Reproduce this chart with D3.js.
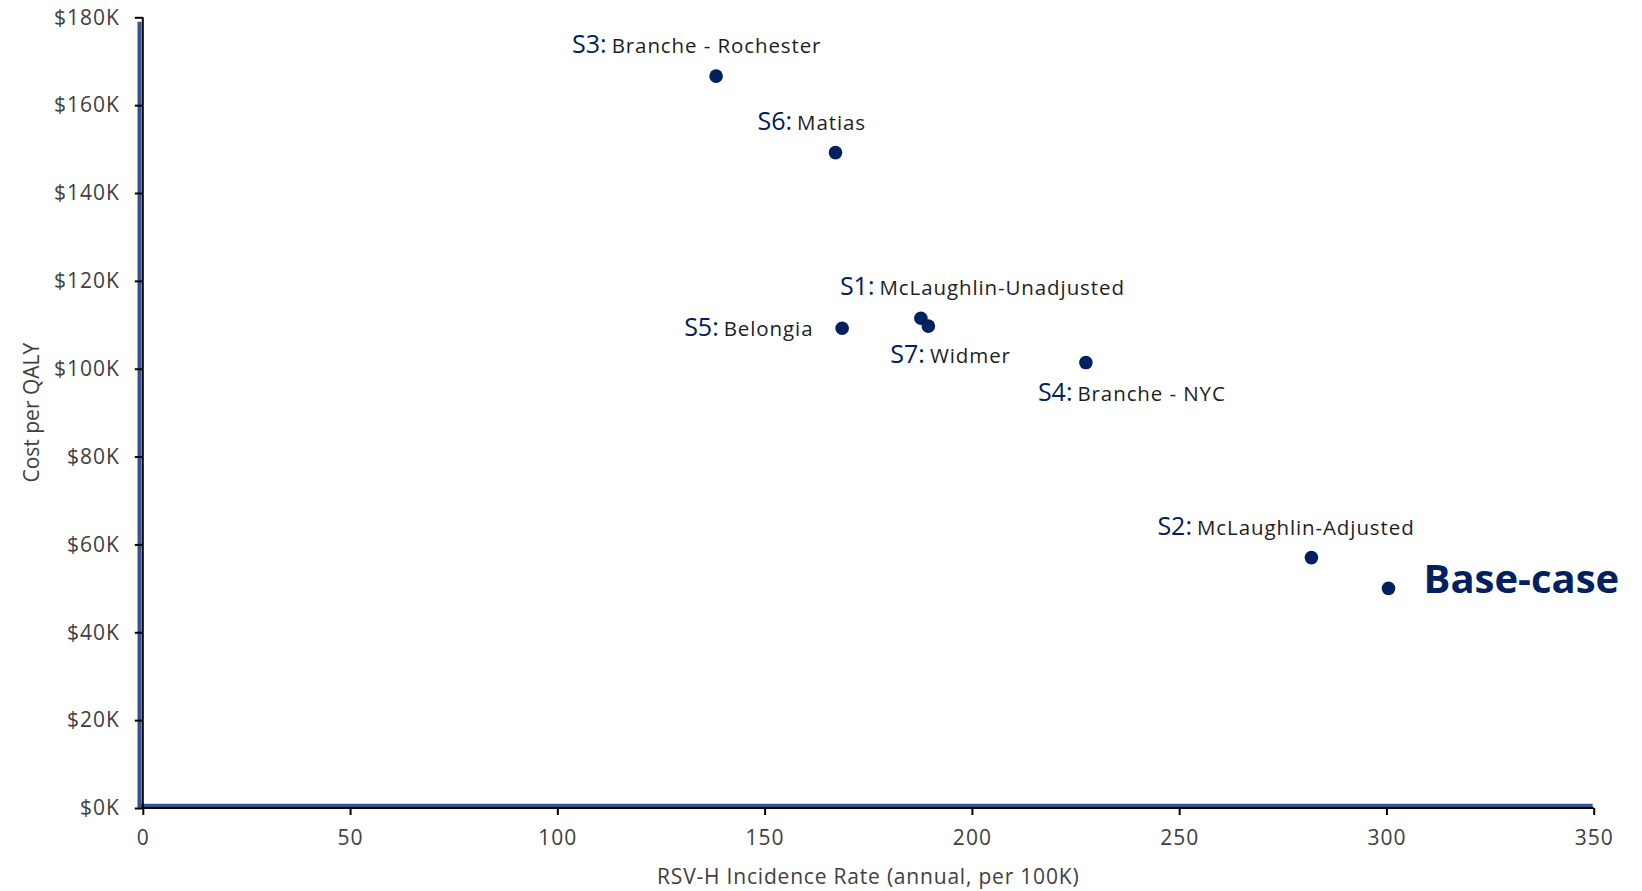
<!DOCTYPE html>
<html>
<head>
<meta charset="utf-8">
<script src="https://cdn.jsdelivr.net/npm/d3@7"></script>
<style>
  html, body { margin: 0; padding: 0; background: #fff; }
  svg { display: block; font-family: "Open Sans", "Noto Sans", sans-serif; }
</style>
</head>
<body>
<svg id="chart" width="1642" height="891"></svg>
<script>
// ---- data ----
const scenarioIds = ["S1", "S2", "S3", "S4", "S5", "S6", "S7"];
const scenarioNames = ["McLaughlin-Unadjusted", "McLaughlin-Adjusted", "Branche - Rochester", "Branche - NYC", "Belongia", "Matias", "Widmer"];
const incidenceRate = [187.7, 281.9, 138.3, 227.5, 168.7, 167.1, 189.5];
const costPerQalyK = [111.5, 57.0, 166.6, 101.4, 109.2, 149.2, 109.7];
const baseCaseLabel = ["Base-case"];
const baseCaseIncidence = [300.5];
const baseCaseCostK = [50.0];
const xTickValues = [0, 50, 100, 150, 200, 250, 300, 350];
const yTickValues = [0, 20, 40, 60, 80, 100, 120, 140, 160, 180];
const xTitle = "RSV-H Incidence Rate (annual, per 100K)";
const yTitle = "Cost per QALY";

// ---- layout (label offsets in px relative to point) ----
const labelOffsets = {
  S1: [-81, -23], S2: [-154, -23], S3: [-144, -23], S4: [-48, 38],
  S5: [-158, 8], S6: [-78, -23], S7: [-38, 37]
};

const svg = d3.select("#chart");
const x = d3.scaleLinear().domain([0, 350]).range([142.8, 1593.7]);
const y = d3.scaleLinear().domain([0, 180]).range([808, 17.3]);

const navy = "#002060";
const axisBlue = "#2F5597";
const tickColor = "#404040";

// blue L-shaped frame line
svg.append("path")
  .attr("d", d3.line()([[x(0) - 3.3, y(180) + 4.4], [x(0) - 3.3, y(0) - 2.2], [x(350) - 1, y(0) - 2.2]]))
  .attr("fill", "none").attr("stroke", axisBlue).attr("stroke-width", 4);

// axes
const yAxis = svg.append("g").attr("transform", `translate(${x(0)},0)`)
  .call(d3.axisLeft(y).tickValues(yTickValues).tickSize(8).tickPadding(16)
    .tickFormat(d => "$" + d + "K"));
const xAxis = svg.append("g").attr("transform", `translate(0,${y(0)})`)
  .call(d3.axisBottom(x).tickValues(xTickValues).tickSize(7).tickPadding(15).tickSizeOuter(7));

[yAxis, xAxis].forEach(g => {
  g.select(".domain").attr("stroke", "#000").attr("stroke-width", 2);
  g.selectAll(".tick line").attr("stroke", "#000").attr("stroke-width", 2);
  g.selectAll(".tick text").attr("fill", tickColor)
    .style("font-family", '"Open Sans", sans-serif').style("font-size", "21px")
    .style("letter-spacing", "1px");
});
yAxis.selectAll(".tick text").attr("dx", 1);
yAxis.select(".domain").attr("d", `M0,${y(180)}V${y(0) + 1}`);
xAxis.select(".domain").attr("d", `M${x(0) - 1},0H${x(350)}`);

// axis titles
svg.append("text")
  .attr("x", (x(0) + x(350)) / 2).attr("y", 884)
  .attr("text-anchor", "middle").attr("fill", tickColor)
  .style("font-size", "21px").style("letter-spacing", "0.8px").text(xTitle);
svg.append("text")
  .attr("transform", `translate(39,${(y(0) + y(180)) / 2}) rotate(-90)`)
  .attr("text-anchor", "middle").attr("fill", tickColor)
  .style("font-size", "21px").text(yTitle);

// points
const pts = scenarioIds.map((id, i) => ({ id, name: scenarioNames[i], xv: incidenceRate[i], yv: costPerQalyK[i] }));
svg.append("g").selectAll("circle").data(pts).join("circle")
  .attr("cx", d => x(d.xv)).attr("cy", d => y(d.yv)).attr("r", 6.8).attr("fill", navy);

const labels = svg.append("g").selectAll("text").data(pts).join("text")
  .attr("x", d => x(d.xv) + labelOffsets[d.id][0])
  .attr("y", d => y(d.yv) + labelOffsets[d.id][1]);
labels.append("tspan").attr("fill", navy).style("font-size", "25px").text(d => d.id + ":");
labels.append("tspan").attr("dx", 5).attr("fill", "#1e1e1e").style("font-size", "20.5px")
  .style("letter-spacing", "0.9px").text(d => d.name);

// base case
svg.append("g").selectAll("circle").data(baseCaseIncidence).join("circle")
  .attr("cx", (d) => x(d)).attr("cy", (d, i) => y(baseCaseCostK[i])).attr("r", 6.8).attr("fill", navy);
svg.append("g").selectAll("text").data(baseCaseLabel).join("text")
  .attr("x", (d, i) => x(baseCaseIncidence[i]) + 35)
  .attr("y", (d, i) => y(baseCaseCostK[i]) + 5)
  .attr("fill", navy).style("font-size", "40px").style("font-weight", "bold")
  .text(d => d);
</script>
</body>
</html>
